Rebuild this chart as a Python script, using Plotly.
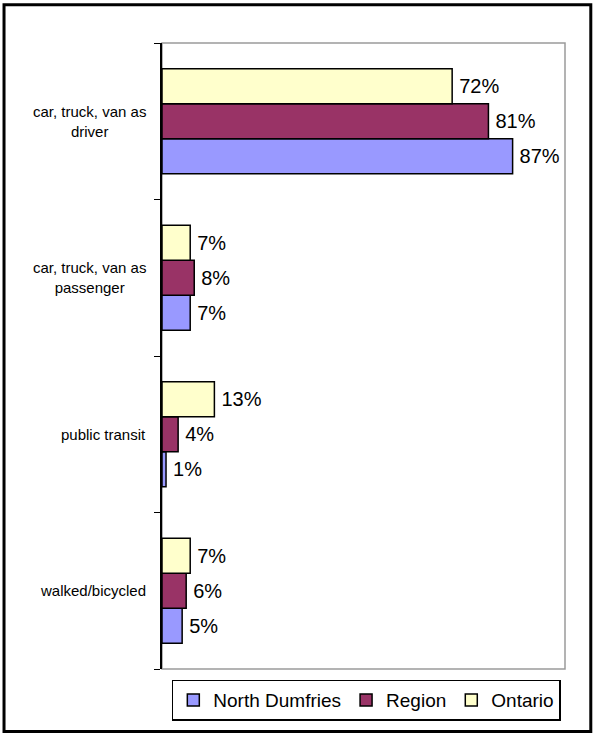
import plotly.graph_objects as go

categories = [
    "car, truck, van as<br>driver",
    "car, truck, van as<br>passenger",
    "public transit",
    "walked/bicycled",
]
north_dumfries = [87, 7, 1, 5]
region = [81, 8, 4, 6]
ontario = [72, 7, 13, 7]

series = [
    ("North Dumfries", north_dumfries, "#9999FF"),
    ("Region", region, "#993366"),
    ("Ontario", ontario, "#FFFFCC"),
]

FONT = "Liberation Sans, Arial, sans-serif"

fig = go.Figure()
for name, values, color in series:
    fig.add_trace(
        go.Bar(
            y=categories,
            x=values,
            name=name,
            orientation="h",
            marker=dict(color=color, line=dict(color="black", width=1.5)),
            text=[f"\u2009{v}%" for v in values],
            textposition="outside",
            textfont=dict(size=20, color="black", family=FONT),
            constraintext="none",
            cliponaxis=False,
        )
    )

# category labels as centred annotations (tick labels can't be centre-aligned)
for cat in categories:
    fig.add_annotation(
        x=-0.035, xref="paper", xanchor="right",
        y=cat, yref="y", yanchor="middle",
        text=cat, showarrow=False, align="center",
        font=dict(size=15, family=FONT, color="black"),
    )

# plot-area frame (grey) and outer chart frame (black)
fig.add_shape(
    type="rect", xref="paper", yref="paper", x0=0, x1=1, y0=0, y1=1,
    line=dict(color="#9a9a9a", width=1.5), layer="below",
)
fig.add_shape(
    type="rect", xref="paper", yref="paper",
    x0=-0.392, x1=1.064, y0=-0.1, y1=1.061,
    line=dict(color="black", width=3),
)

fig.update_layout(
    width=594,
    height=736,
    margin=dict(l=162, r=29, t=43, b=67),
    paper_bgcolor="white",
    plot_bgcolor="white",
    barmode="group",
    bargap=0.33,
    bargroupgap=0,
    font=dict(family=FONT, color="black"),
    showlegend=True,
    legend=dict(
        orientation="h",
        x=0.507,
        xanchor="center",
        y=-0.017,
        yanchor="top",
        bordercolor="black",
        borderwidth=1.5,
        font=dict(size=19, family=FONT),
        itemwidth=30,
        tracegroupgap=0,
    ),
)
fig.update_xaxes(visible=False, range=[0, 100], fixedrange=True)
fig.update_yaxes(
    type="category",
    categoryorder="array",
    categoryarray=categories[::-1],
    showline=True,
    linecolor="black",
    linewidth=2,
    ticks="outside",
    tickson="boundaries",
    ticklen=6,
    tickcolor="black",
    showticklabels=False,
    showgrid=False,
    zeroline=False,
    fixedrange=True,
)

fig.write_html(
    "out.html",
    config={"displayModeBar": False},
    post_script="document.body.style.margin='0';",
)
